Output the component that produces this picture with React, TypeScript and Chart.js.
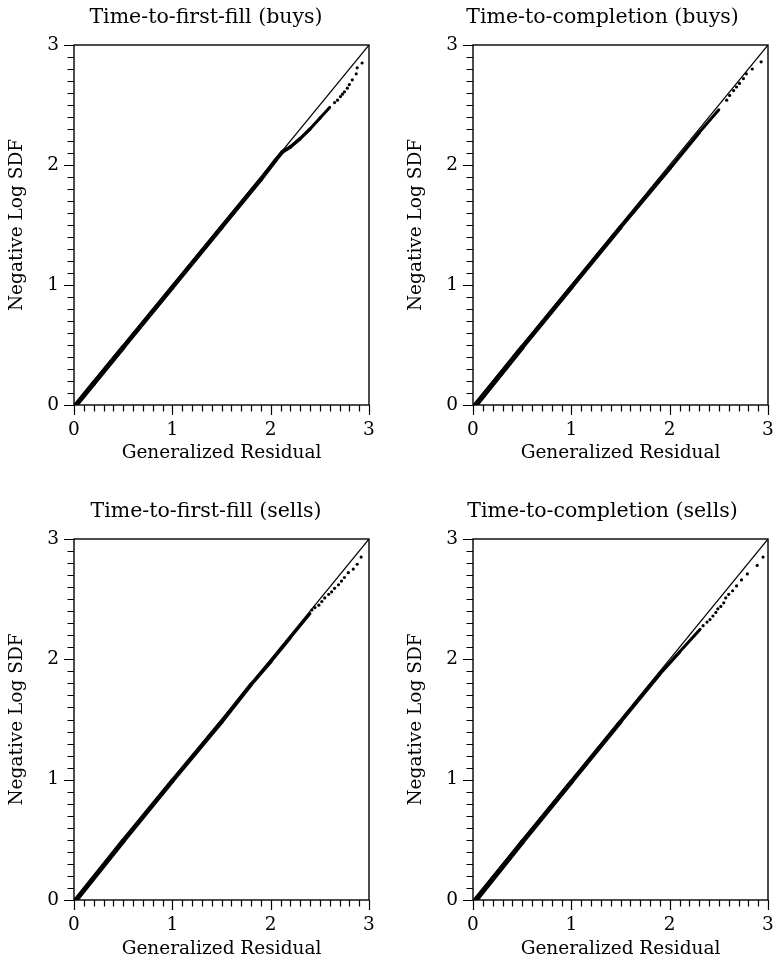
import { useEffect, useRef } from 'react';
import { Chart, registerables } from 'chart.js';

Chart.register(...registerables);

// ---- shared axis text and limits ----
const X_TITLE = 'Generalized Residual';
const Y_TITLE = 'Negative Log SDF';
const AXIS_MIN = 0;
const AXIS_MAX = 3;
const TICK_STEP = 0.1;
const REFERENCE_X = [0, 3];
const REFERENCE_Y = [0, 3];

// ---- Time-to-first-fill (buys) ----
const firstFillBuysBodyX = [0.02, 0.2, 0.5, 1.0, 1.5, 1.9, 2.05, 2.12, 2.2, 2.3, 2.4, 2.5, 2.6];
const firstFillBuysBodyY = [0.0, 0.18, 0.48, 0.98, 1.48, 1.88, 2.04, 2.11, 2.15, 2.22, 2.3, 2.39, 2.48];
const firstFillBuysTailX = [2.65, 2.68, 2.71, 2.73, 2.75, 2.78, 2.8, 2.83, 2.87, 2.88, 2.93];
const firstFillBuysTailY = [2.52, 2.54, 2.57, 2.59, 2.61, 2.64, 2.67, 2.71, 2.76, 2.81, 2.85];

// ---- Time-to-completion (buys) ----
const completionBuysBodyX = [0.03, 0.5, 1.0, 1.5, 2.0, 2.3, 2.5];
const completionBuysBodyY = [0.0, 0.48, 0.98, 1.48, 1.97, 2.27, 2.46];
const completionBuysTailX = [2.58, 2.61, 2.65, 2.68, 2.71, 2.75, 2.78, 2.84, 2.93];
const completionBuysTailY = [2.54, 2.58, 2.62, 2.65, 2.68, 2.72, 2.76, 2.8, 2.86];

// ---- Time-to-first-fill (sells) ----
const firstFillSellsBodyX = [0.02, 0.5, 1.0, 1.5, 1.8, 2.0, 2.2, 2.4];
const firstFillSellsBodyY = [0.0, 0.49, 0.99, 1.48, 1.79, 1.98, 2.18, 2.38];
const firstFillSellsTailX = [2.42, 2.45, 2.49, 2.52, 2.55, 2.59, 2.62, 2.65, 2.69, 2.72, 2.75, 2.79, 2.84, 2.88, 2.92];
const firstFillSellsTailY = [2.41, 2.43, 2.45, 2.48, 2.51, 2.54, 2.56, 2.59, 2.62, 2.65, 2.68, 2.72, 2.75, 2.79, 2.85];

// ---- Time-to-completion (sells) ----
const completionSellsBodyX = [0.03, 0.5, 1.0, 1.5, 1.9, 2.1, 2.31];
const completionSellsBodyY = [0.0, 0.48, 0.98, 1.48, 1.88, 2.06, 2.25];
const completionSellsTailX = [2.34, 2.38, 2.41, 2.44, 2.47, 2.49, 2.52, 2.55, 2.57, 2.6, 2.64, 2.68, 2.73, 2.79, 2.89, 2.95];
const completionSellsTailY = [2.28, 2.31, 2.33, 2.36, 2.39, 2.42, 2.44, 2.47, 2.51, 2.54, 2.57, 2.61, 2.66, 2.71, 2.78, 2.85];

const FONT_FAMILY = '"DejaVu Serif", "Liberation Serif", serif';
const MAJOR_TICK = 10;
const MINOR_TICK = 6.5;
const BAND_WIDTH_START = 5;
const BAND_WIDTH_END = 3;

const toPoints = (xs: number[], ys: number[]) => xs.map((x, i) => ({ x, y: ys[i] }));
const isWhole = (v: number) => Math.abs(v - Math.round(v)) < 1e-6;

// Box around the plot plus long (integer) and short (tenth) tick marks.
const frameAndTicks = {
  id: 'frameAndTicks',
  afterDraw(chart: any) {
    const { ctx, chartArea: a, scales } = chart;
    ctx.save();
    ctx.strokeStyle = '#000';
    ctx.lineWidth = 1.4;
    ctx.strokeRect(a.left, a.top, a.right - a.left, a.bottom - a.top);
    ctx.lineWidth = 1.2;
    ctx.beginPath();
    for (const t of scales.x.ticks) {
      const px = Math.round(scales.x.getPixelForValue(t.value)) + 0.5;
      const len = isWhole(t.value) ? MAJOR_TICK : MINOR_TICK;
      ctx.moveTo(px, a.bottom);
      ctx.lineTo(px, a.bottom + len);
    }
    for (const t of scales.y.ticks) {
      const py = Math.round(scales.y.getPixelForValue(t.value)) + 0.5;
      const len = isWhole(t.value) ? MAJOR_TICK : MINOR_TICK;
      ctx.moveTo(a.left, py);
      ctx.lineTo(a.left - len, py);
    }
    ctx.stroke();
    ctx.restore();
  },
};

type PanelProps = {
  title: string;
  bodyX: number[];
  bodyY: number[];
  tailX: number[];
  tailY: number[];
  left: number;
  top: number;
  width: number;
  height: number;
  visibleWidth: number;
  rightGap: number;
  xAxisHeight: number;
};

function Panel(p: PanelProps) {
  const ref = useRef<HTMLCanvasElement>(null);

  useEffect(() => {
    const tickFont = { family: FONT_FAMILY, size: 18.5 };
    const labelCallback = (v: any) => (isWhole(Number(v)) ? String(Math.round(Number(v))) : '');
    const axisGrid = {
      display: true,
      drawOnChartArea: false,
      drawTicks: true,
      tickLength: MAJOR_TICK,
      tickColor: 'rgba(0,0,0,0)',
    };
    const segCount = Math.max(1, p.bodyX.length - 2);
    // dense observations make the band heavier near the origin
    const bandWidth = (ctx: any) =>
      BAND_WIDTH_START - (BAND_WIDTH_START - BAND_WIDTH_END) * Math.min(1, ctx.p0DataIndex / segCount);

    const chart = new Chart(ref.current as HTMLCanvasElement, {
      type: 'scatter',
      data: {
        datasets: [
          {
            data: toPoints(REFERENCE_X, REFERENCE_Y),
            showLine: true,
            borderColor: '#000',
            borderWidth: 1.2,
            pointRadius: 0,
          },
          {
            data: toPoints(p.bodyX, p.bodyY),
            showLine: true,
            borderColor: '#000',
            borderWidth: BAND_WIDTH_END,
            segment: { borderWidth: bandWidth },
            borderJoinStyle: 'round',
            borderCapStyle: 'round',
            pointRadius: 0,
          },
          {
            data: toPoints(p.tailX, p.tailY),
            showLine: false,
            backgroundColor: '#000',
            borderWidth: 0,
            pointRadius: 1.6,
          },
        ],
      },
      options: {
        responsive: false,
        animation: false,
        devicePixelRatio: 1,
        layout: { padding: 0 },
        plugins: {
          legend: { display: false },
          tooltip: { enabled: false },
          title: {
            display: true,
            text: p.title,
            color: '#000',
            font: { family: FONT_FAMILY, size: 20.5, weight: 'normal' },
            padding: { top: 5, bottom: 15.4 },
          },
        },
        scales: {
          x: {
            type: 'linear',
            min: AXIS_MIN,
            max: AXIS_MAX,
            border: { display: false },
            grid: axisGrid,
            ticks: {
              stepSize: TICK_STEP,
              autoSkip: false,
              maxRotation: 0,
              padding: 4,
              color: '#000',
              font: tickFont,
              callback: labelCallback,
            },
            title: {
              display: true,
              text: X_TITLE,
              color: '#000',
              font: tickFont,
              padding: { top: 0, bottom: 6 },
            },
            afterFit: (scale: any) => {
              scale.height = p.xAxisHeight;
            },
          },
          y: {
            type: 'linear',
            min: AXIS_MIN,
            max: AXIS_MAX,
            border: { display: false },
            grid: axisGrid,
            ticks: {
              stepSize: TICK_STEP,
              autoSkip: false,
              padding: 5,
              color: '#000',
              font: tickFont,
              callback: labelCallback,
            },
            title: {
              display: true,
              text: Y_TITLE,
              color: '#000',
              font: tickFont,
              padding: { top: 6, bottom: 0 },
            },
            afterFit: (scale: any) => {
              scale.width = 74;
            },
          },
          gap: {
            type: 'linear',
            position: 'right',
            min: AXIS_MIN,
            max: AXIS_MAX,
            border: { display: false },
            grid: { display: false },
            ticks: { display: false },
            afterFit: (scale: any) => {
              scale.width = p.rightGap;
            },
          },
        },
      } as any,
      plugins: [frameAndTicks],
    });
    return () => chart.destroy();
  }, []);

  return (
    <div
      style={{
        position: 'absolute',
        left: p.left,
        top: p.top,
        width: p.visibleWidth,
        height: p.height,
        overflow: 'hidden',
      }}
    >
      <canvas ref={ref} width={p.width} height={p.height} style={{ display: 'block' }} />
    </div>
  );
}

export default function App() {
  return (
    <div style={{ position: 'absolute', left: 0, top: 0, width: 773, height: 966, background: '#fff', overflow: 'hidden' }}>
      <Panel
        title="Time-to-first-fill (buys)"
        bodyX={firstFillBuysBodyX}
        bodyY={firstFillBuysBodyY}
        tailX={firstFillBuysTailX}
        tailY={firstFillBuysTailY}
        left={0}
        top={0}
        width={412}
        height={470}
        visibleWidth={399}
        rightGap={43}
        xAxisHeight={65}
      />
      <Panel
        title="Time-to-completion (buys)"
        bodyX={completionBuysBodyX}
        bodyY={completionBuysBodyY}
        tailX={completionBuysTailX}
        tailY={completionBuysTailY}
        left={399}
        top={0}
        width={407}
        height={470}
        visibleWidth={374}
        rightGap={38}
        xAxisHeight={65}
      />
      <Panel
        title="Time-to-first-fill (sells)"
        bodyX={firstFillSellsBodyX}
        bodyY={firstFillSellsBodyY}
        tailX={firstFillSellsTailX}
        tailY={firstFillSellsTailY}
        left={0}
        top={494}
        width={412}
        height={472}
        visibleWidth={399}
        rightGap={43}
        xAxisHeight={66}
      />
      <Panel
        title="Time-to-completion (sells)"
        bodyX={completionSellsBodyX}
        bodyY={completionSellsBodyY}
        tailX={completionSellsTailX}
        tailY={completionSellsTailY}
        left={399}
        top={494}
        width={407}
        height={472}
        visibleWidth={374}
        rightGap={38}
        xAxisHeight={66}
      />
    </div>
  );
}
